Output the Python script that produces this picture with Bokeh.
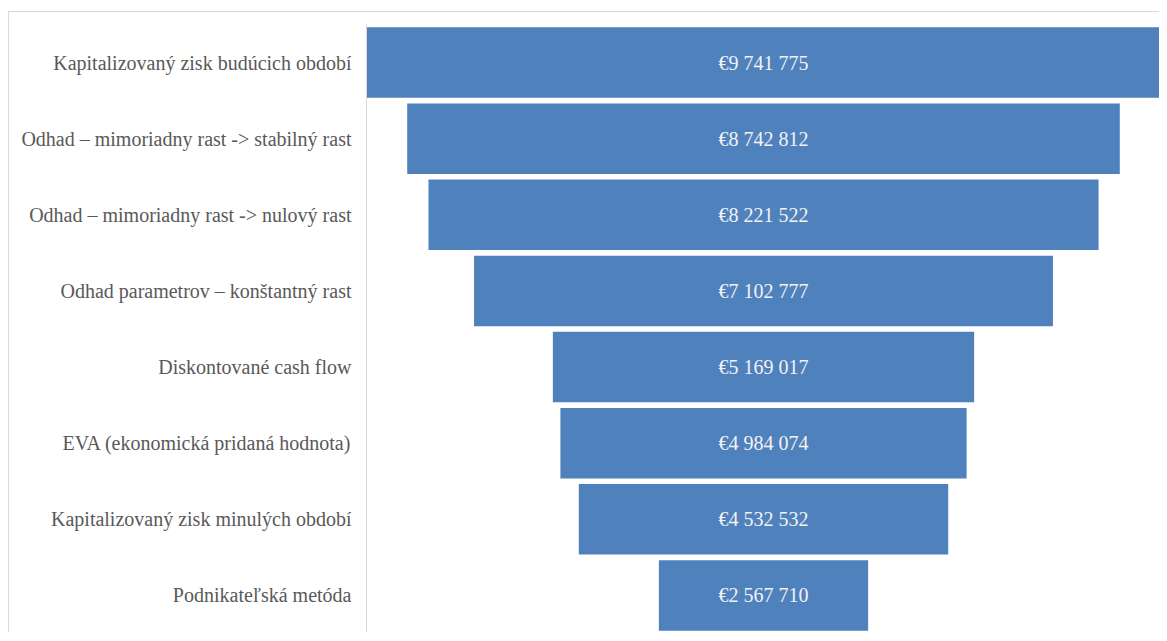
from bokeh.plotting import figure
from bokeh.models import FactorRange, Range1d, ColumnDataSource
from bokeh.core.properties import value
from bokeh.embed import file_html
from bokeh.resources import INLINE

categories = [
    "Kapitalizovaný zisk budúcich období",
    "Odhad – mimoriadny rast -> stabilný rast",
    "Odhad – mimoriadny rast -> nulový rast",
    "Odhad parametrov – konštantný rast",
    "Diskontované cash flow",
    "EVA (ekonomická pridaná hodnota)",
    "Kapitalizovaný zisk minulých období",
    "Podnikateľská metóda",
]
values = [9741775, 8742812, 8221522, 7102777, 5169017, 4984074, 4532532, 2567710]
labels = ["€" + f"{v:,}".replace(",", " ") for v in values]

src = ColumnDataSource(dict(cat=categories, val=values, lab=labels))

vmax = max(values)
p = figure(
    width=1151, height=621,
    y_range=FactorRange(*reversed(categories)),
    x_range=Range1d(-vmax / 2, vmax / 2),
    output_backend="svg", toolbar_location=None,
    min_border_left=357, min_border_right=0, min_border_top=12, min_border_bottom=0,
)
p.margin = (11, 0, 0, 8)
p.styles = {"border-top": "1px solid #d9d9d9", "border-left": "1px solid #d9d9d9"}

p.rect(x=0, y="cat", width="val", height=0.925, source=src,
       fill_color="#4f81bd", line_color=None)
p.text(x=0, y="cat", text="lab", source=src, text_align="center",
       text_baseline="middle", text_color="#f2f2f2",
       text_font=value("Liberation Serif"), text_font_size="20px")

p.xaxis.visible = False
p.xgrid.visible = False
p.ygrid.visible = False
p.outline_line_color = None
ax = p.yaxis[0]
ax.axis_line_color = "#d9d9d9"
ax.axis_line_width = 1
ax.major_tick_line_color = None
ax.minor_tick_line_color = None
ax.major_label_text_font = "Liberation Serif"
ax.major_label_text_font_size = "20px"
ax.major_label_text_color = "#595959"
ax.major_label_standoff = 9

open("out.html", "w").write(file_html(p, INLINE))
